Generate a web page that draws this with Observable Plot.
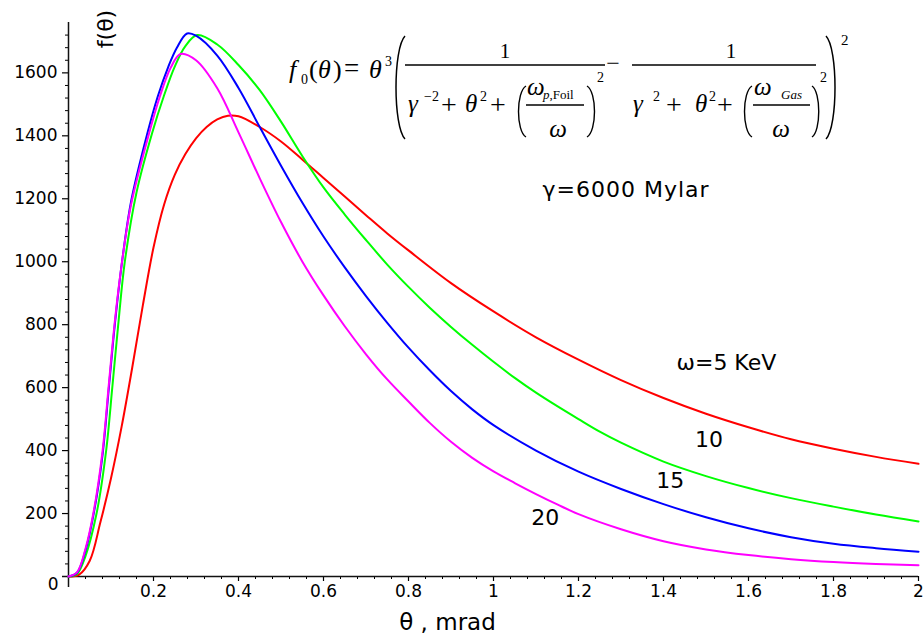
<!DOCTYPE html>
<html>
<head>
<meta charset="utf-8">
<script src="https://cdn.jsdelivr.net/npm/d3@7"></script>
<script src="https://cdn.jsdelivr.net/npm/@observablehq/plot@0.6"></script>
<style>
  html, body { margin: 0; padding: 0; background: #fff; overflow: hidden; }
  #chart { position: relative; width: 923px; height: 635px; }
</style>
</head>
<body>
<div id="chart"></div>
<script>
// Angular distribution f(θ), θ in mrad, for γ = 6000 and four photon energies ω (keV).
const theta5 = [0, 0.025, 0.05, 0.075, 0.1, 0.125, 0.15, 0.175, 0.2, 0.225, 0.25, 0.275, 0.3, 0.325, 0.35, 0.375, 0.4, 0.45, 0.5, 0.55, 0.6, 0.65, 0.7, 0.75, 0.8, 0.9, 1.0, 1.1, 1.2, 1.3, 1.4, 1.5, 1.6, 1.7, 1.8, 1.9, 2.0];
const f5     = [0, 6, 50, 172, 312, 476, 664, 862, 1045, 1182, 1276, 1342, 1392, 1428, 1452, 1464, 1462, 1428, 1382, 1325, 1266, 1207, 1148, 1090, 1036, 932, 842, 760, 689, 624, 567, 517, 474, 436, 406, 380, 358];

const theta10 = [0, 0.02, 0.04, 0.066, 0.0886, 0.103, 0.117, 0.1325, 0.16, 0.197, 0.224, 0.25, 0.275, 0.303, 0.35, 0.4, 0.45, 0.5, 0.55, 0.6, 0.65, 0.7, 0.75, 0.8, 0.85, 0.9, 0.95, 1.0, 1.05, 1.1, 1.15, 1.2, 1.25, 1.3, 1.4, 1.5, 1.6, 1.7, 1.8, 1.9, 2.0];
const f10     = [0, 8, 65, 200, 400, 600, 800, 1000, 1220, 1410, 1525, 1620, 1685, 1720, 1690, 1625, 1545, 1445, 1336, 1236, 1150, 1069, 991, 920, 854, 793, 736, 682, 631, 584, 541, 500, 460, 425, 365, 319, 281, 249, 222, 197, 175];

const theta15 = [0, 0.02, 0.04, 0.06, 0.08, 0.095, 0.109, 0.126, 0.1475, 0.185, 0.21, 0.235, 0.255, 0.279, 0.3, 0.35, 0.4, 0.45, 0.5, 0.55, 0.6, 0.65, 0.7, 0.75, 0.8, 0.85, 0.9, 0.95, 1.0, 1.1, 1.2, 1.3, 1.4, 1.5, 1.6, 1.7, 1.8, 1.9, 2.0];
const f15     = [0, 12, 83, 205, 385, 600, 800, 1000, 1193, 1405, 1525, 1620, 1680, 1725, 1718, 1655, 1552, 1428, 1305, 1188, 1080, 982, 891, 806, 727, 655, 589, 531, 481, 400, 333, 278, 230, 188, 153, 125, 104, 90, 79];

const theta20 = [0, 0.02, 0.04, 0.06, 0.08, 0.095, 0.109, 0.126, 0.147, 0.19, 0.215, 0.24, 0.2635, 0.3, 0.35, 0.4, 0.45, 0.5, 0.55, 0.6, 0.65, 0.7, 0.75, 0.8, 0.85, 0.9, 0.95, 1.0, 1.05, 1.1, 1.15, 1.2, 1.3, 1.4, 1.5, 1.6, 1.7, 1.8, 1.9, 2.0];
const f20     = [0, 13, 88, 212, 397, 612, 810, 1000, 1180, 1410, 1525, 1615, 1660, 1640, 1551, 1411, 1265, 1126, 1001, 893, 795, 706, 626, 556, 488, 428, 377, 334, 297, 262, 229, 198, 150, 112, 86, 68, 55, 46, 40, 36];

const energies = ["5", "10", "15", "20"];
const energyColors = ["#ff0000", "#00ff00", "#0000ff", "#ff00ff"];

const xTickValues = [0.2, 0.4, 0.6, 0.8, 1, 1.2, 1.4, 1.6, 1.8, 2];
const yTickValues = [200, 400, 600, 800, 1000, 1200, 1400, 1600];

// In-plot annotations, anchored in data units (θ, f)
const noteText  = ["γ=6000 Mylar", "ω=5 KeV", "10", "15", "20"];
const noteTheta = [1.312, 1.548, 1.507, 1.416, 1.122];
const noteF     = [1228, 680, 435, 305, 185];

// Long table for the line mark
const rows = [];
[[theta5, f5], [theta10, f10], [theta15, f15], [theta20, f20]].forEach(([t, f], k) => {
  t.forEach((th, i) => rows.push({energy: energies[k], theta: th, f: f[i]}));
});
const notes = noteText.map((s, i) => ({text: s, theta: noteTheta[i], f: noteF[i]}));

const xMinor = d3.range(1, 51).filter(i => i % 5 !== 0).map(i => +(i * 0.04).toFixed(2));
const yMinor = d3.range(1, 44).filter(i => i % 5 !== 0).map(i => i * 40);

const plot = Plot.plot({
  width: 923,
  height: 635,
  marginLeft: 68,
  marginRight: 5,
  marginTop: 22,
  marginBottom: 59,
  x: {domain: [0, 2]},
  y: {domain: [0, 1760]},
  color: {domain: energies, range: energyColors},
  style: {fontFamily: "DejaVu Sans", fontSize: "17px", background: "#fff", color: "#000"},
  marks: [
    Plot.axisX({ticks: xMinor, tickSize: 3, tickFormat: () => "", label: null, strokeWidth: 1}),
    Plot.axisX({ticks: xTickValues, tickSize: 5, tickPadding: 3, tickFormat: d => String(d), fontSize: 17, label: null, strokeWidth: 1.2}),
    Plot.axisY({ticks: yMinor, tickSize: 3, tickFormat: () => "", label: null, strokeWidth: 1}),
    Plot.axisY({ticks: yTickValues, tickSize: 6, tickPadding: 5, tickFormat: d => String(d), fontSize: 17, label: null, strokeWidth: 1.2}),
    Plot.ruleY([0], {insetLeft: -6, stroke: "#111", strokeWidth: 1.5}),
    Plot.ruleX([0], {insetBottom: -11, stroke: "#111", strokeWidth: 1.5}),
    Plot.text(["0"], {x: 0, y: 0, text: d => d, dx: -10, dy: 8, textAnchor: "end", fontSize: 17}),
    Plot.line(rows, {x: "theta", y: "f", z: "energy", stroke: "energy", strokeWidth: 2, curve: "catmull-rom"}),
    Plot.text(notes, {x: "theta", y: "f", text: "text", fontSize: 22, fill: "#000"}),
    Plot.text(["θ , mrad"], {frameAnchor: "bottom", text: d => d, dx: -46, dy: 53, lineAnchor: "bottom", fontSize: 23})
  ]
});

document.getElementById("chart").appendChild(plot);

const svg = d3.select(plot);
svg.selectAll("text").filter(function () { return this.textContent === "γ=6000 Mylar"; })
  .style("letter-spacing", "1px");

// Vertical axis title, reading bottom to top
svg.append("text")
  .attr("transform", "translate(105,29) rotate(-90)")
  .attr("text-anchor", "middle")
  .attr("dy", "0.35em")
  .attr("font-family", "DejaVu Sans")
  .attr("font-size", 22)
  .attr("fill", "#000")
  .text("f(θ)");

// Formula f0(θ) set in a serif face, laid out piece by piece
const fx = svg.append("g")
  .attr("font-family", "'Liberation Serif', 'Times New Roman', serif")
  .attr("fill", "#000");

function put(s, x, y, size, italic = false, anchor = "start") {
  return fx.append("text")
    .attr("x", x).attr("y", y)
    .attr("font-size", size)
    .attr("font-style", italic ? "italic" : "normal")
    .attr("text-anchor", anchor)
    .text(s);
}
function bar(x1, x2, y) {
  fx.append("line").attr("x1", x1).attr("x2", x2).attr("y1", y).attr("y2", y)
    .attr("stroke", "#000").attr("stroke-width", 1.3);
}
function paren(xEnd, xBulge, y1, y2, w = 1.4) {
  const h = y2 - y1;
  fx.append("path")
    .attr("d", `M${xEnd},${y1} C${xBulge},${y1 + h * 0.12} ${xBulge},${y2 - h * 0.12} ${xEnd},${y2}`)
    .attr("fill", "none").attr("stroke", "#000").attr("stroke-width", w);
}

put("f", 289, 78, 26, true);
put("0", 301, 84, 14);
put("(", 309, 78, 26);
put("θ", 318, 78, 26, true);
put(")", 333, 78, 26);
put("=", 344, 77, 27);
put("θ", 369, 78, 26, true);
put("3", 385, 66, 14);

paren(405, 393, 36, 139, 1.5);
paren(826, 838, 36, 139, 1.5);
put("2", 841, 45, 15);

// first fraction
put("1", 505, 58, 21, false, "middle");
bar(405, 605, 65);
put("γ", 408, 112, 25, true);
put("−2", 424, 101, 14);
put("+", 441, 114, 28);
put("θ", 465, 112, 25, true);
put("2", 480, 101, 14);
put("+", 490, 114, 28);
paren(526, 516, 86, 137);
put("ω", 527, 95, 25, true);
const sub1 = put("", 543, 99, 13);
sub1.append("tspan").attr("font-style", "italic").text("p");
sub1.append("tspan").text(",Foil");
bar(526, 584, 105);
put("ω", 558, 137, 25, true, "middle");
paren(587, 597, 86, 137);
put("2", 597, 82, 14);

put("−", 613, 71, 24, false, "middle");

// second fraction
put("1", 731, 58, 21, false, "middle");
bar(632, 816, 65);
put("γ", 633, 112, 25, true);
put("2", 653, 101, 14);
put("+", 666, 114, 28);
put("θ", 695, 112, 25, true);
put("2", 709, 101, 14);
put("+", 717, 114, 28);
paren(752, 742, 86, 137);
put("ω", 754, 95, 25, true);
put("Gas", 781, 99, 13, true);
bar(753, 810, 105);
put("ω", 781, 137, 25, true, "middle");
paren(812, 821, 86, 137);
put("2", 820, 82, 14);
</script>
</body>
</html>
